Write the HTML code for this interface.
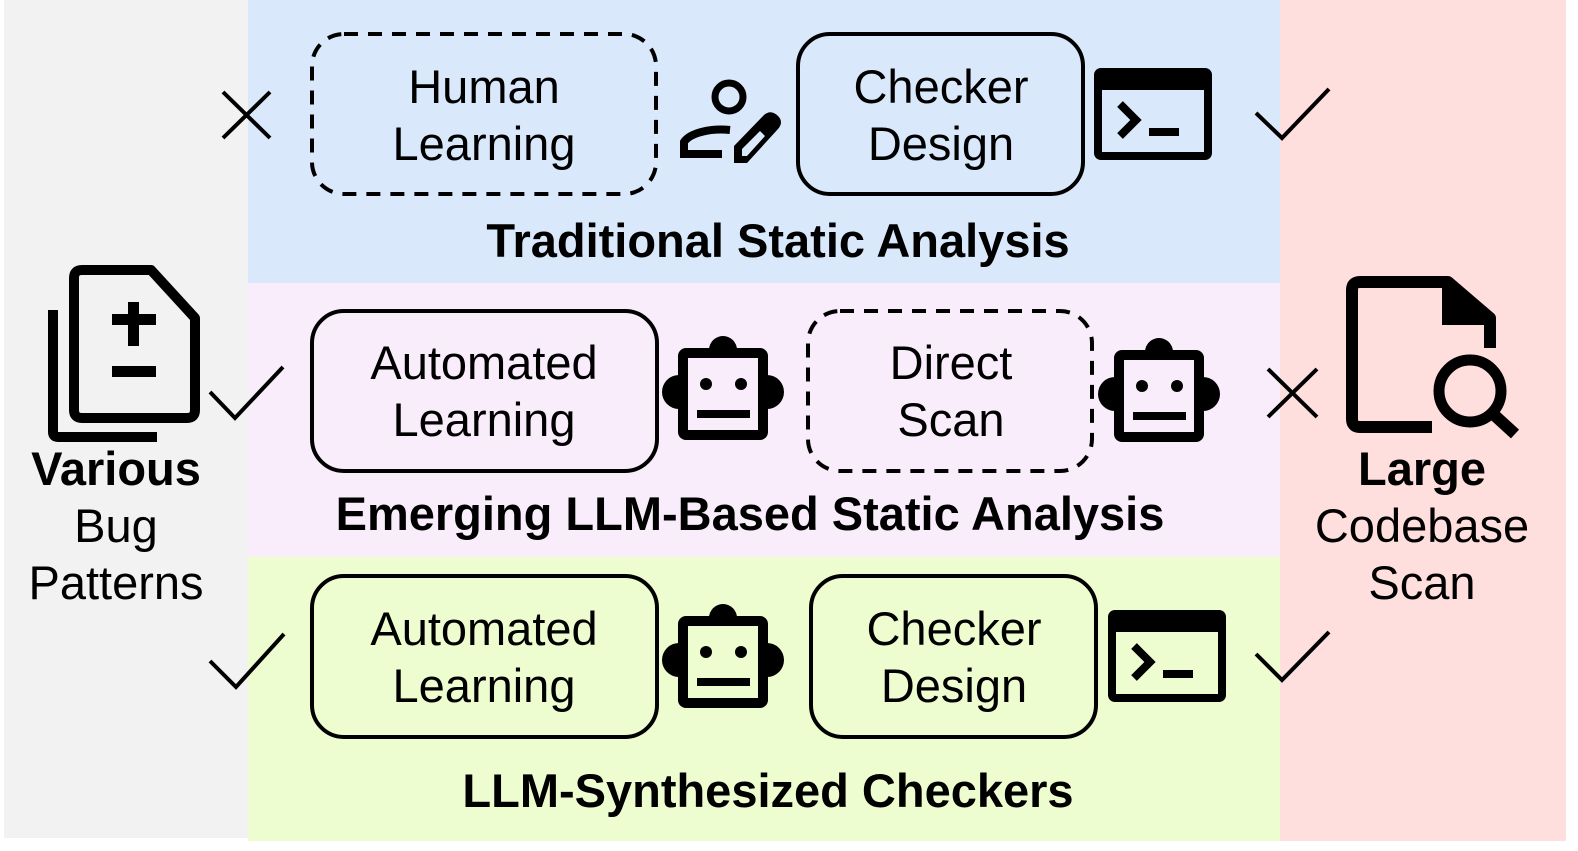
<!DOCTYPE html>
<html><head><meta charset="utf-8"><style>
html,body{margin:0;padding:0;background:#fff;}
body{width:1578px;height:851px;position:relative;overflow:hidden;font-family:"Liberation Sans",Arial,sans-serif;}
</style></head><body>
<svg width="1578" height="851" viewBox="0 0 1578 851" xmlns="http://www.w3.org/2000/svg" style="position:absolute;left:0;top:0">
<defs>
<g id="robot">
  <circle cx="61" cy="16" r="14" fill="#000"/>
  <circle cx="17" cy="58" r="17" fill="#000"/>
  <circle cx="105" cy="58" r="17" fill="#000"/>
  <rect x="16" y="14" width="90" height="92" rx="8" fill="#000"/>
  <rect x="26" y="24" width="70" height="72" fill="var(--bg)"/>
  <circle cx="44" cy="50" r="6" fill="#000"/>
  <circle cx="79" cy="50" r="6" fill="#000"/>
  <rect x="35" y="76" width="53" height="8" fill="#000"/>
</g>
<g id="term">
  <rect x="0" y="0" width="118" height="92" rx="7" fill="#000"/>
  <rect x="8" y="22" width="102" height="62" fill="var(--bg)"/>
  <polyline points="26,36 42,52 26,68" fill="none" stroke="#000" stroke-width="8"/>
  <rect x="55" y="60" width="30" height="8" fill="#000"/>
</g>
</defs>

<rect x="4" y="0" width="244" height="838" fill="#f2f2f2"/>
<rect x="248" y="0" width="1032" height="283" fill="#dae8fc"/>
<rect x="248" y="283" width="1032" height="274" fill="#f9edfc"/>
<rect x="248" y="557" width="1032" height="284" fill="#eefdd0"/>
<rect x="1280" y="0" width="286" height="841" fill="#ffdede"/>

<g fill="none" stroke="#000" stroke-width="4">
<rect x="312" y="34" width="344" height="160" rx="32" stroke-dasharray="14,10"/>
<rect x="798" y="34" width="285" height="160" rx="32"/>
<rect x="312" y="311" width="345" height="160" rx="32"/>
<rect x="808" y="311" width="284" height="160" rx="32" stroke-dasharray="14,10"/>
<rect x="312" y="576" width="345" height="161" rx="32"/>
<rect x="811" y="576" width="285" height="161" rx="32"/>
</g>

<g font-size="47" text-anchor="middle" fill="#000">
<text x="484" y="103">Human</text><text x="484" y="160">Learning</text>
<text x="941" y="103">Checker</text><text x="941" y="160">Design</text>
<text x="484" y="379">Automated</text><text x="484" y="436">Learning</text>
<text x="951" y="379">Direct</text><text x="951" y="436">Scan</text>
<text x="484" y="645">Automated</text><text x="484" y="702">Learning</text>
<text x="954" y="645">Checker</text><text x="954" y="702">Design</text>
</g>

<g font-size="47" font-weight="bold" text-anchor="middle" fill="#000">
<text x="778" y="257">Traditional Static Analysis</text>
<text x="750" y="530">Emerging LLM-Based Static Analysis</text>
<text x="768" y="807">LLM-Synthesized Checkers</text>
</g>

<g font-size="47" text-anchor="middle" fill="#000">
<text x="116" y="485" font-weight="bold">Various</text>
<text x="116" y="542">Bug</text>
<text x="116" y="599">Patterns</text>
<text x="1422" y="485" font-weight="bold">Large</text>
<text x="1422" y="542">Codebase</text>
<text x="1422" y="599">Scan</text>
</g>

<use href="#term" x="1094" y="68" style="--bg:#dae8fc"/>
<use href="#term" x="1108" y="610" style="--bg:#eefdd0"/>
<use href="#robot" x="662" y="334" style="--bg:#f9edfc"/>
<use href="#robot" x="1098" y="336" style="--bg:#f9edfc"/>
<use href="#robot" x="662" y="602" style="--bg:#eefdd0"/>

<circle cx="729" cy="97" r="14" fill="none" stroke="#000" stroke-width="7"/>
<path d="M730,130 C710,128 690,133 684,142 L684,154 L722,154" fill="none" stroke="#000" stroke-width="8"/>
<path d="M734,163 L734,146 L764,115 Q771,109 778,116 Q784,122 778,129 L747,163 Z" fill="#000"/>
<path d="M742,156 L742,149 L760,131 L765,136 L747,156 Z" fill="#dae8fc"/>

<path d="M53,310 L53,432 Q53,437 58,437 L157,437" fill="none" stroke="#000" stroke-width="10"/>
<path d="M82,270 L151,270 L195,318 L195,410 Q195,418 187,418 L82,418 Q74,418 74,410 L74,278 Q74,270 82,270 Z" fill="none" stroke="#000" stroke-width="10" stroke-linejoin="round"/>
<rect x="112" y="314" width="44" height="11" fill="#000"/>
<rect x="128" y="302" width="11" height="44" fill="#000"/>
<rect x="112" y="366" width="44" height="11" fill="#000"/>

<path d="M1432,427 L1360,427 Q1352,427 1352,419 L1352,290 Q1352,282 1360,282 L1448,282 L1490,318 L1490,348" fill="none" stroke="#000" stroke-width="12" stroke-linejoin="round"/>
<path d="M1442,281 L1442,325 L1491,325 L1491,318 L1448,281 Z" fill="#000"/>
<circle cx="1470" cy="391" r="31" fill="none" stroke="#000" stroke-width="11"/>
<line x1="1492" y1="413" x2="1515" y2="434" stroke="#000" stroke-width="12"/>

<g fill="none" stroke="#000" stroke-width="4">
<path d="M223,92 L270,138 M270,92 L223,138"/>
<path d="M1268,369 L1317,417 M1317,369 L1268,417"/>
<polyline points="210,392 235,418 283,367"/>
<polyline points="210,661 236,687 284,634"/>
<polyline points="1256,113 1282,138 1329,89"/>
<polyline points="1256,654 1282,680 1329,632"/>
</g>
</svg>
</body></html>
